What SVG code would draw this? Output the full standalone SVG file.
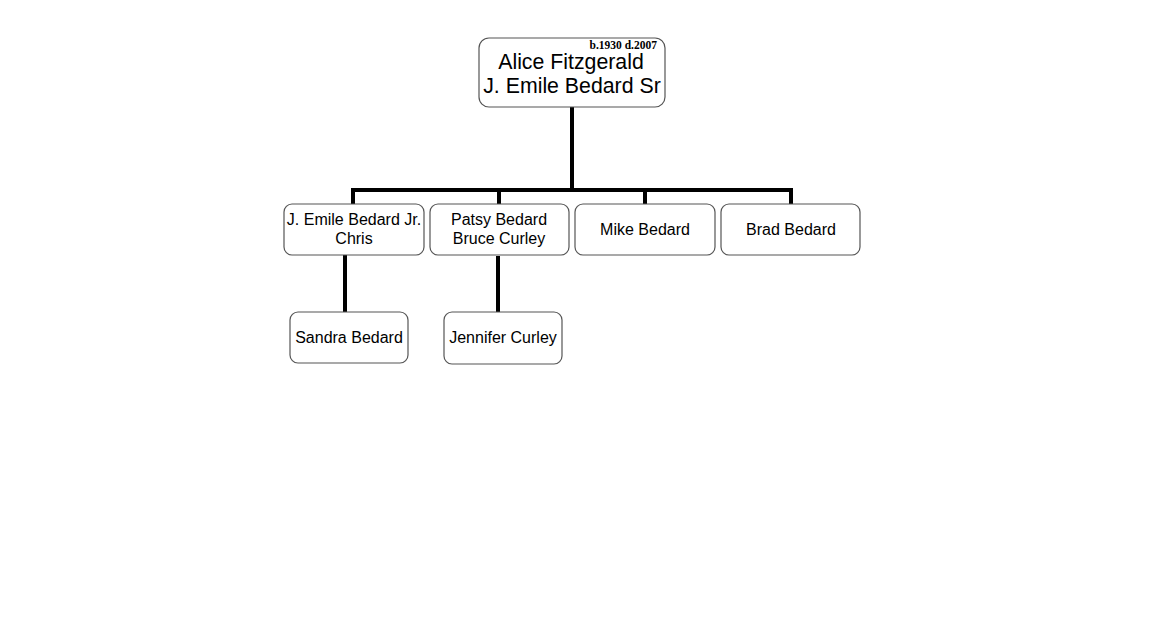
<svg xmlns="http://www.w3.org/2000/svg" width="1160" height="626" viewBox="0 0 1160 626">
<style>
.box{fill:#fff;stroke:#555;stroke-width:1.2}
.t{font-family:"Liberation Sans",Arial,sans-serif;font-size:16px;fill:#000;text-anchor:middle}
.big{font-size:21.3px}
.dates{font-family:"Liberation Serif","Times New Roman",serif;font-size:11.5px;font-weight:bold;text-anchor:end}
.c{stroke:#000;stroke-width:4;fill:none}
</style>
<rect width="1160" height="626" fill="#fff"/>
<g id="connectors">
<path class="c" d="M572 107V190M353 204V190H791V204M499 190V204M645 190V204"/>
<path class="c" d="M345 255V312"/>
<path class="c" d="M498 256V313"/>
</g>
<g id="n-alice">
<rect class="box" x="479" y="38" width="186" height="69" rx="10"/>
<text class="dates" x="657" y="49">b.1930 d.2007</text>
<text class="t big" x="571" y="69">Alice Fitzgerald</text>
<text class="t big" x="572" y="93">J. Emile Bedard Sr</text>
</g>
<g id="n-emile-jr">
<rect class="box" x="284" y="204" width="140" height="51" rx="8"/>
<text class="t" x="354" y="225">J. Emile Bedard Jr.</text>
<text class="t" x="354" y="244">Chris</text>
</g>
<g id="n-patsy">
<rect class="box" x="430" y="204" width="139" height="51" rx="8"/>
<text class="t" x="499" y="225">Patsy Bedard</text>
<text class="t" x="499" y="244">Bruce Curley</text>
</g>
<g id="n-mike">
<rect class="box" x="575" y="204" width="140" height="51" rx="8"/>
<text class="t" x="645" y="235">Mike Bedard</text>
</g>
<g id="n-brad">
<rect class="box" x="721" y="204" width="139" height="51" rx="8"/>
<text class="t" x="791" y="235">Brad Bedard</text>
</g>
<g id="n-sandra">
<rect class="box" x="290" y="312" width="118" height="51" rx="8"/>
<text class="t" x="349" y="343">Sandra Bedard</text>
</g>
<g id="n-jennifer">
<rect class="box" x="444" y="312" width="118" height="52" rx="8"/>
<text class="t" x="503" y="343">Jennifer Curley</text>
</g>
</svg>
